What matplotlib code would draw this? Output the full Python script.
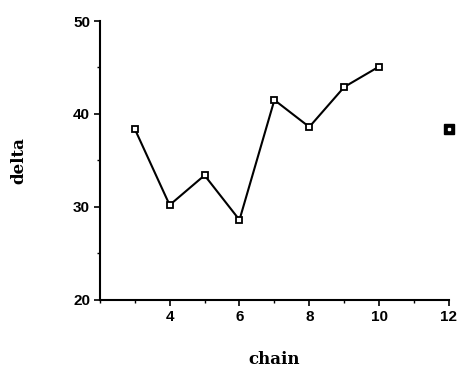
import matplotlib
matplotlib.use("Agg")
import matplotlib.pyplot as plt
import matplotlib.ticker as mticker

# chain length vs delta; the last point is measured separately
chain = [3, 4, 5, 6, 7, 8, 9, 10]
delta = [38.4, 30.2, 33.4, 28.6, 41.5, 38.6, 42.9, 45.1]
extra_chain = [12]
extra_delta = [38.4]

fig = plt.figure(figsize=(4.6, 3.72), dpi=100)
ax = fig.add_axes([0.217, 0.194, 0.759, 0.7495])

ax.plot(chain, delta, color="black", lw=1.5, marker="s", ms=5,
        mfc="white", mec="black", mew=1.3, zorder=3)
ax.plot(extra_chain, extra_delta, ls="none", marker="s", ms=7.5,
        mfc="black", mec="black", zorder=3, clip_on=False)
ax.plot(extra_chain, extra_delta, ls="none", marker="s", ms=2,
        mfc="white", mec="white", zorder=4, clip_on=False)

ax.set_xlim(2, 12)
ax.set_ylim(20, 50)
ax.xaxis.set_major_locator(mticker.FixedLocator([4, 6, 8, 10, 12]))
ax.xaxis.set_minor_locator(mticker.MultipleLocator(1))
ax.yaxis.set_major_locator(mticker.MultipleLocator(10))
ax.yaxis.set_minor_locator(mticker.MultipleLocator(5))

for side in ("top", "right"):
    ax.spines[side].set_visible(False)
for side in ("left", "bottom"):
    ax.spines[side].set_linewidth(1.5)

ax.tick_params(which="major", direction="out", length=4, width=1.2,
               labelsize=11, pad=3)
ax.tick_params(which="minor", direction="out", length=2, width=1)
for lbl in ax.get_xticklabels() + ax.get_yticklabels():
    lbl.set_fontfamily("Liberation Sans")
    lbl.set_fontweight("bold")

ax.set_xlabel("chain", fontsize=12, fontweight="bold",
              fontfamily="DejaVu Serif", labelpad=20)
ax.set_ylabel("delta", fontsize=12, fontweight="bold",
              fontfamily="DejaVu Serif", labelpad=33)

fig.savefig("out.png", dpi=100)
